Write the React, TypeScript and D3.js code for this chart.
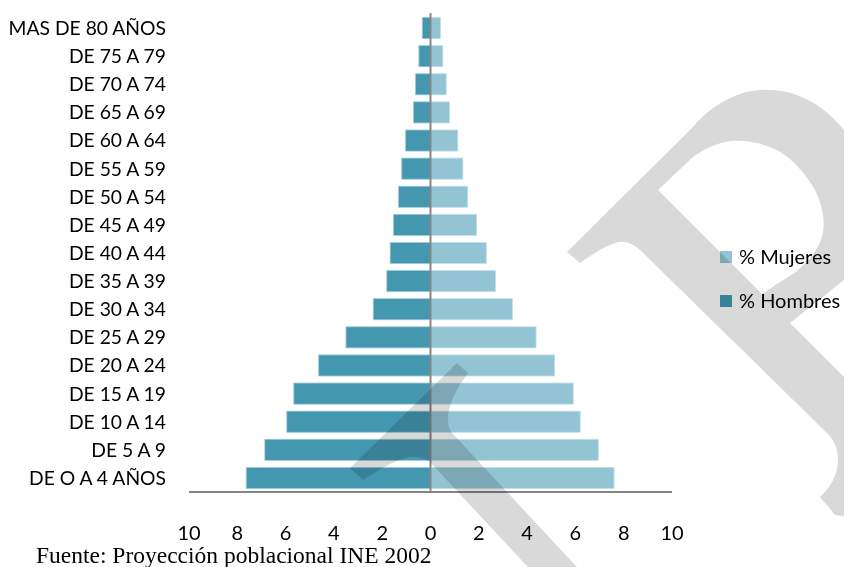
import React from "react";
import * as d3 from "d3";

const categories = [
  "MAS DE 80 AÑOS", "DE 75 A 79", "DE 70 A 74", "DE 65 A 69", "DE 60 A 64",
  "DE 55 A 59", "DE 50 A 54", "DE 45 A 49", "DE 40 A 44", "DE 35 A 39",
  "DE 30 A 34", "DE 25 A 29", "DE 20 A 24", "DE 15 A 19", "DE 10 A 14",
  "DE 5 A 9", "DE O A 4 AÑOS",
];
const hombres = [0.34, 0.48, 0.62, 0.7, 1.03, 1.19, 1.32, 1.53, 1.67, 1.81, 2.37, 3.5, 4.63, 5.66, 5.95, 6.86, 7.63];
const mujeres = [0.41, 0.51, 0.65, 0.79, 1.13, 1.34, 1.54, 1.91, 2.31, 2.69, 3.39, 4.37, 5.14, 5.91, 6.2, 6.95, 7.6];
const tickValues = [-10, -8, -6, -4, -2, 0, 2, 4, 6, 8, 10];
const seriesNames = ["% Mujeres", "% Hombres"];
const source = "Fuente: Proyección poblacional INE 2002";

const W = 844;
const H = 567;
const COL_H = "#4398b0";
const COL_M = "#93c4d4";
const FONT = "Lato, 'Open Sans', sans-serif";

export default function App() {
  const x = d3.scaleLinear().domain([-10, 10]).range([189, 672]);
  const y = d3.scaleBand<string>().domain(categories).range([14, 492]).paddingInner(0.25).paddingOuter(0.125);
  const bw = y.bandwidth();

  const wmP =
    "M567,252 L693,127 C705,112 730,92 760,90 C790,88 815,100 835,120 C860,145 885,190 885,240 L844,280 L790,323 L870,403 L870,520 L835,515 L820,497 C830,488 838,475 838,460 C838,448 834,440 827,433 L640,250 C632,243 624,240 615,243 C603,247 590,256 580,263 Z " +
    "M658,190 L693,157 C703,150 712,145 725,142 C740,139 760,142 777,150 C790,157 805,172 815,190 C822,205 825,218 823,232 C820,250 805,268 780,282 L762,294 Z";
  const wmA =
    "M457,363 L468,373 C460,384 452,396 449,410 C447,420 448,428 452,433 L589,580 L540,580 L430,462 C424,458 418,456 410,457 C400,459 390,463 376,472 L363,480 L350,468 Z";

  return (
    <svg width={W} height={H} style={{ position: "absolute", left: 0, top: 0, background: "#fff" }}>
      <rect x={0} y={0} width={W} height={H} fill="#fff" />
      {categories.map((c, i) => (
        <g key={c}>
          <rect x={x(-hombres[i])} y={y(c)} width={x(0) - x(-hombres[i])} height={bw} fill={COL_H} stroke="#9ccbd9" strokeWidth={0.8} />
          <rect x={x(0)} y={y(c)} width={x(mujeres[i]) - x(0)} height={bw} fill={COL_M} stroke="#c2dfe9" strokeWidth={0.8} />
          <text x={166} y={y(c)! + bw / 2} dy="0.36em" textAnchor="end" fontFamily={FONT} fontSize={19.3} fill="#000">
            {c}
          </text>
        </g>
      ))}
      <line x1={x(0)} x2={x(0)} y1={13} y2={493} stroke="#868686" strokeWidth={2} />
      <line x1={x(-10)} x2={x(10)} y1={492} y2={492} stroke="#868686" strokeWidth={2} />
      {tickValues.map((t) => (
        <text key={t} x={x(t)} y={533} dy="0.36em" textAnchor="middle" fontFamily={FONT} fontSize={20} fill="#000">
          {Math.abs(t)}
        </text>
      ))}
      <text x={36} y={563} fontFamily="'Liberation Serif', 'Times New Roman', serif" fontSize={23.5} fill="#000">
        {source}
      </text>
      {seriesNames.map((s, i) => (
        <g key={s}>
          <rect x={720} y={251 + i * 44} width={12} height={12} fill={i === 0 ? COL_M : COL_H} />
          <text x={739} y={257 + i * 44} dy="0.36em" fontFamily={FONT} fontSize={20} fill="#000">
            {s}
          </text>
        </g>
      ))}
      <g style={{ mixBlendMode: "multiply" }}>
        <path d={wmP} fill="#d9d9d9" fillRule="evenodd" />
        <path d={wmA} fill="#d9d9d9" />
      </g>
    </svg>
  );
}
